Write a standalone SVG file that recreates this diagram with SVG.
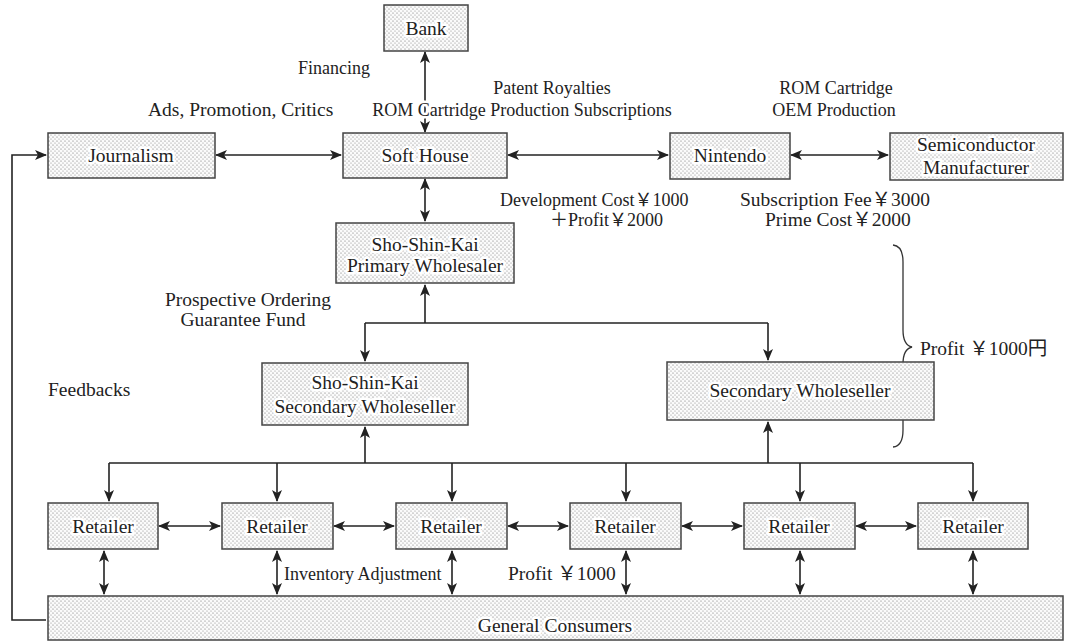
<svg xmlns="http://www.w3.org/2000/svg" width="1068" height="641" viewBox="0 0 1068 641">
<style>
text{font-family:"Liberation Serif","Noto Sans CJK JP",serif;font-size:19.5px;fill:#222}
.bt{text-anchor:middle;stroke:#fff;stroke-width:5;stroke-linejoin:round;paint-order:stroke}
.lb{stroke:#fff;stroke-width:5;stroke-linejoin:round;paint-order:stroke}
.box{fill:url(#dots);stroke:#444;stroke-width:1.5}
.c{fill:none;stroke:#222;stroke-width:1.6}
.m{text-anchor:middle}
.s{font-size:18px}
</style>
<defs>
<pattern id="dots" width="4" height="4" patternUnits="userSpaceOnUse">
<rect width="4" height="4" fill="#fbfbfb"/>
<circle cx="1" cy="1" r="0.6" fill="#6a6a6a"/>
<circle cx="3" cy="3" r="0.6" fill="#8a8a8a"/>
</pattern>
<marker id="ah" viewBox="0 0 12 10" refX="11" refY="5" markerWidth="12" markerHeight="10" markerUnits="userSpaceOnUse" orient="auto-start-reverse">
<path d="M0,0 L12,5 L0,10 L3,5 Z" fill="#222"/>
</marker>
</defs>

<g id="connectors">
<path class="c" d="M425,52 V132" marker-start="url(#ah)" marker-end="url(#ah)"/>
<path class="c" d="M216,155 H341" marker-start="url(#ah)" marker-end="url(#ah)"/>
<path class="c" d="M508,155 H668" marker-start="url(#ah)" marker-end="url(#ah)"/>
<path class="c" d="M791,155 H888" marker-start="url(#ah)" marker-end="url(#ah)"/>
<path class="c" d="M425,179 V221" marker-start="url(#ah)" marker-end="url(#ah)"/>
<path class="c" d="M425,323 V285" marker-end="url(#ah)"/>
<path class="c" d="M365,323 H768"/>
<path class="c" d="M365,323 V361" marker-end="url(#ah)"/>
<path class="c" d="M768,323 V360" marker-end="url(#ah)"/>
<path class="c" d="M109,463 H973"/>
<path class="c" d="M365,463 V427" marker-end="url(#ah)"/>
<path class="c" d="M768,463 V422" marker-end="url(#ah)"/>
<path class="c" d="M109,463 V501" marker-end="url(#ah)"/>
<path class="c" d="M277,463 V501" marker-end="url(#ah)"/>
<path class="c" d="M452,463 V501" marker-end="url(#ah)"/>
<path class="c" d="M626,463 V501" marker-end="url(#ah)"/>
<path class="c" d="M800,463 V501" marker-end="url(#ah)"/>
<path class="c" d="M973,463 V501" marker-end="url(#ah)"/>
<path class="c" d="M159,526 H220" marker-start="url(#ah)" marker-end="url(#ah)"/>
<path class="c" d="M334,526 H394" marker-start="url(#ah)" marker-end="url(#ah)"/>
<path class="c" d="M508,526 H568" marker-start="url(#ah)" marker-end="url(#ah)"/>
<path class="c" d="M682,526 H742" marker-start="url(#ah)" marker-end="url(#ah)"/>
<path class="c" d="M856,526 H916" marker-start="url(#ah)" marker-end="url(#ah)"/>
<path class="c" d="M104,551 V594" marker-start="url(#ah)" marker-end="url(#ah)"/>
<path class="c" d="M277,551 V594" marker-start="url(#ah)" marker-end="url(#ah)"/>
<path class="c" d="M452,551 V594" marker-start="url(#ah)" marker-end="url(#ah)"/>
<path class="c" d="M626,551 V594" marker-start="url(#ah)" marker-end="url(#ah)"/>
<path class="c" d="M800,551 V594" marker-start="url(#ah)" marker-end="url(#ah)"/>
<path class="c" d="M973,551 V594" marker-start="url(#ah)" marker-end="url(#ah)"/>
<path class="c" d="M46,620 H12 V155 H46" marker-end="url(#ah)"/>
<path fill="none" stroke="#333" stroke-width="1.3" d="M893,245 Q903,246 903,262 V330 Q903,345 912,347 Q903,349 903,364 V430 Q903,446 893,447"/>
</g>

<g id="bank"><rect class="box" x="384" y="5" width="84" height="46"/><text class="bt" x="426" y="35">Bank</text></g>
<g id="journalism"><rect class="box" x="48" y="133" width="167" height="45"/><text class="bt" x="131" y="162">Journalism</text></g>
<g id="softhouse"><rect class="box" x="343" y="133" width="164" height="45"/><text class="bt" x="425" y="162">Soft House</text></g>
<g id="nintendo"><rect class="box" x="670" y="133" width="120" height="46"/><text class="bt" x="730" y="162">Nintendo</text></g>
<g id="semiconductor"><rect class="box" x="890" y="133" width="173" height="47"/><text class="bt" x="976" y="151">Semiconductor</text><text class="bt" x="976" y="174">Manufacturer</text></g>
<g id="primary"><rect class="box" x="336" y="223" width="178" height="60"/><text class="bt" x="425" y="251">Sho-Shin-Kai</text><text class="bt" x="425" y="272">Primary Wholesaler</text></g>
<g id="sskSecondary"><rect class="box" x="262" y="363" width="206" height="62"/><text class="bt" x="365" y="389">Sho-Shin-Kai</text><text class="bt" x="365" y="413">Secondary Wholeseller</text></g>
<g id="secondary"><rect class="box" x="667" y="362" width="267" height="58"/><text class="bt" x="800" y="397">Secondary Wholeseller</text></g>
<g id="retailer1"><rect class="box" x="48" y="503" width="110" height="46"/><text class="bt" x="103" y="533">Retailer</text></g>
<g id="retailer2"><rect class="box" x="222" y="503" width="111" height="46"/><text class="bt" x="277" y="533">Retailer</text></g>
<g id="retailer3"><rect class="box" x="396" y="503" width="111" height="46"/><text class="bt" x="451" y="533">Retailer</text></g>
<g id="retailer4"><rect class="box" x="570" y="503" width="111" height="46"/><text class="bt" x="625" y="533">Retailer</text></g>
<g id="retailer5"><rect class="box" x="744" y="503" width="111" height="46"/><text class="bt" x="799" y="533">Retailer</text></g>
<g id="retailer6"><rect class="box" x="918" y="503" width="110" height="46"/><text class="bt" x="973" y="533">Retailer</text></g>
<g id="consumers"><rect class="box" x="48" y="596" width="1015" height="44"/><text class="bt" x="555" y="632">General Consumers</text></g>

<g id="labels">
<text class="s" x="370" y="74" text-anchor="end">Financing</text>
<text x="148" y="116">Ads, Promotion, Critics</text>
<text class="m s" x="552" y="94">Patent Royalties</text>
<text class="m s lb" x="522" y="116">ROM Cartridge Production Subscriptions</text>
<text class="m s" x="836" y="94">ROM Cartridge</text>
<text class="m s" x="834" y="116">OEM Production</text>
<text class="s" x="500" y="206">Development Cost￥1000</text>
<text class="s" x="550" y="226">＋Profit￥2000</text>
<text x="740" y="206">Subscription Fee￥3000</text>
<text x="765" y="226">Prime Cost￥2000</text>
<text class="m" x="248" y="306">Prospective Ordering</text>
<text class="m" x="243" y="326">Guarantee Fund</text>
<text x="48" y="396">Feedbacks</text>
<text x="920" y="355">Profit ￥1000円</text>
<text class="lb s" x="284" y="580">Inventory Adjustment</text>
<text x="508" y="580">Profit ￥1000</text>
</g>
</svg>
